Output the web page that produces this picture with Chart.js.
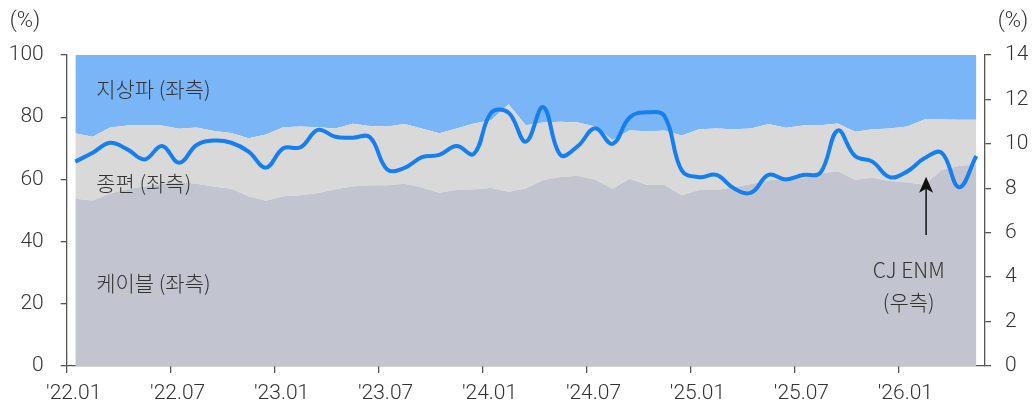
<!DOCTYPE html>
<html>
<head>
<meta charset="utf-8">
<script src="https://cdn.jsdelivr.net/npm/chart.js@4.4.1/dist/chart.umd.min.js"></script>
<style>
  html, body { margin:0; padding:0; background:#fff; }
  #wrap { width:1035px; height:405px; position:relative; }
</style>
</head>
<body>
<div id="wrap"><canvas id="shareChart"></canvas></div>
<script>
// 월별 카테고리 ('22.01 ~ '26.05)
const months = [
  "'22.01","'22.02","'22.03","'22.04","'22.05","'22.06","'22.07","'22.08","'22.09","'22.10","'22.11","'22.12",
  "'23.01","'23.02","'23.03","'23.04","'23.05","'23.06","'23.07","'23.08","'23.09","'23.10","'23.11","'23.12",
  "'24.01","'24.02","'24.03","'24.04","'24.05","'24.06","'24.07","'24.08","'24.09","'24.10","'24.11","'24.12",
  "'25.01","'25.02","'25.03","'25.04","'25.05","'25.06","'25.07","'25.08","'25.09","'25.10","'25.11","'25.12",
  "'26.01","'26.02","'26.03","'26.04","'26.05"
];
const xTickLabels = ["'22.01","'22.07","'23.01","'23.07","'24.01","'24.07","'25.01","'25.07","'26.01"];
const leftTicks = [0,20,40,60,80,100];
const rightTicks = [0,2,4,6,8,10,12,14];

// 케이블 (좌측, %)
const cable = [53.8,53.2,55.5,56.8,57.8,58.6,59.2,58.6,57.6,57.0,54.6,53.1,
  54.6,54.9,55.6,56.8,57.7,58.1,58.1,58.6,57.4,55.7,56.6,56.8,
  57.2,56.0,57.1,59.8,60.8,61.2,59.9,57.0,60.2,58.2,58.2,54.9,
  56.6,56.6,57.5,58.5,59.7,60.0,60.4,61.9,62.6,59.9,60.5,59.5,
  59.0,58.3,63.0,64.3,64.8];
// 종편 (좌측, %)
const jongpyeon = [21.0,20.5,21.2,20.5,19.7,18.7,17.1,18.1,18.0,17.9,18.6,21.3,
  22.2,22.1,21.2,19.6,20.2,19.1,18.9,19.2,19.0,19.1,19.8,21.2,
  21.8,28.2,20.3,18.5,17.7,17.1,17.1,15.7,15.6,17.2,17.5,19.2,
  19.5,19.8,18.6,17.9,18.1,16.6,16.9,15.5,15.4,15.4,15.6,16.9,
  18.0,21.0,16.3,14.9,14.4];
// 지상파 (좌측, %)
const terrestrial = [25.2,26.3,23.3,22.7,22.5,22.7,23.7,23.3,24.4,25.1,26.8,25.6,
  23.2,23.0,23.2,23.6,22.1,22.8,23.0,22.2,23.6,25.2,23.6,22.0,
  21.0,15.8,22.6,21.7,21.5,21.7,23.0,27.3,24.2,24.6,24.3,25.9,
  23.9,23.6,23.9,23.6,22.2,23.4,22.7,22.6,22.0,24.7,23.9,23.6,
  23.0,20.7,20.7,20.8,20.8];
// CJ ENM (우측, %)
const cjenm = [9.2,9.6,10.05,9.75,9.3,9.9,9.15,9.95,10.15,10.05,9.65,8.93,
  9.8,9.85,10.63,10.32,10.28,10.3,8.85,8.92,9.4,9.5,9.9,9.55,
  11.4,11.4,10.1,11.65,9.5,9.9,10.7,10.0,11.2,11.42,11.25,8.8,
  8.5,8.6,8.0,7.8,8.6,8.4,8.6,8.7,10.6,9.45,9.2,8.5,
  8.75,9.35,9.6,8.05,9.45];

const toXY = arr => arr.map((v, i) => ({x: i, y: v}));

const axisColor = '#555';
const textColor = '#333';
const numFont = {family: "Roboto, 'Noto Sans CJK KR', sans-serif", size: 21, weight: 300};
const krFont = "300 21px 'Noto Sans CJK KR', Roboto, sans-serif";

// 시리즈 이름, 화살표, 단위 표시
const notes = {
  id: 'notes',
  afterDraw(chart) {
    const {ctx, scales:{x, y, y1}} = chart;
    ctx.save();
    ctx.fillStyle = textColor;
    ctx.font = krFont;
    ctx.textBaseline = 'middle';
    ctx.textAlign = 'left';
    ctx.fillText('지상파 (좌측)', x.getPixelForValue(1.2), y.getPixelForValue(89));
    ctx.fillText('종편 (좌측)', x.getPixelForValue(1.2), y.getPixelForValue(58.8));
    ctx.fillText('케이블 (좌측)', x.getPixelForValue(1.2), y.getPixelForValue(26.7));

    ctx.textAlign = 'center';
    ctx.fillText('CJ ENM', x.getPixelForValue(48.1), y1.getPixelForValue(4.3));
    ctx.fillText('(우측)', x.getPixelForValue(48.1), y1.getPixelForValue(2.9));

    // 화살표
    const ax = x.getPixelForValue(49.1);
    const yTip = y1.getPixelForValue(8.52);
    const yEnd = y1.getPixelForValue(5.9);
    ctx.strokeStyle = '#111';
    ctx.fillStyle = '#111';
    ctx.lineWidth = 1.5;
    ctx.beginPath();
    ctx.moveTo(ax, yEnd);
    ctx.lineTo(ax, yTip + 10);
    ctx.stroke();
    ctx.beginPath();
    ctx.moveTo(ax, yTip);
    ctx.lineTo(ax - 7, yTip + 16);
    ctx.lineTo(ax, yTip + 12);
    ctx.lineTo(ax + 7, yTip + 16);
    ctx.closePath();
    ctx.fill();

    // (%) 단위
    ctx.fillStyle = textColor;
    ctx.font = "300 22px Roboto, sans-serif";
    ctx.textAlign = 'center';
    ctx.fillText('(%)', 25, 21);
    ctx.fillText('(%)', 1013, 21);
    ctx.restore();
  }
};

const ctx = document.getElementById('shareChart').getContext('2d');
new Chart(ctx, {
  type: 'line',
  data: {
    datasets: [
      {label:'CJ ENM', data:toXY(cjenm), yAxisID:'y1', borderColor:'#157ff0', borderWidth:4,
       tension:0.4, pointRadius:0, fill:false},
      {label:'케이블', data:toXY(cable), yAxisID:'y', backgroundColor:'#c2c4cf', borderWidth:0,
       pointRadius:0, fill:'origin', tension:0},
      {label:'종편', data:toXY(jongpyeon), yAxisID:'y', backgroundColor:'#d9d9d9', borderWidth:0,
       pointRadius:0, fill:'-1', tension:0},
      {label:'지상파', data:toXY(terrestrial), yAxisID:'y', backgroundColor:'#79b5f7', borderWidth:0,
       pointRadius:0, fill:'-1', tension:0}
    ]
  },
  options: {
    responsive: true,
    maintainAspectRatio: false,
    animation: false,
    layout: {padding: {top: 55}},
    plugins: {legend: {display:false}, tooltip: {enabled:false}},
    scales: {
      x: {
        type: 'linear', min: -0.5, max: 52.5,
        afterBuildTicks: s => { s.ticks = xTickLabels.map((_, k) => ({value: -0.5 + 6 * k})); },
        afterFit: s => { s.height = 39; },
        ticks: {autoSkip:false, maxRotation:0, color:textColor, font:numFont, padding:8, labelOffset:7,
                callback: (v, i) => xTickLabels[i]},
        grid: {drawOnChartArea:false, tickLength:7, color:axisColor, lineWidth:1.3},
        border: {color:axisColor, width:1.3}
      },
      y: {
        position: 'left', stacked: true, min: 0, max: 100,
        afterBuildTicks: s => { s.ticks = leftTicks.map(v => ({value: v})); },
        afterFit: s => { s.width = 66.7; },
        ticks: {color:textColor, font:numFont, padding:17},
        grid: {drawOnChartArea:false, tickLength:6, color:axisColor, lineWidth:1.3},
        border: {color:axisColor, width:1.3}
      },
      y1: {
        position: 'right', stacked: false, min: 0, max: 14,
        afterBuildTicks: s => { s.ticks = rightTicks.map(v => ({value: v})); },
        afterFit: s => { s.width = 50; },
        ticks: {color:textColor, font:numFont, padding:14},
        grid: {drawOnChartArea:false, tickLength:6, color:axisColor, lineWidth:1.3},
        border: {color:axisColor, width:1.3}
      }
    }
  },
  plugins: [notes]
});
</script>
</body>
</html>
